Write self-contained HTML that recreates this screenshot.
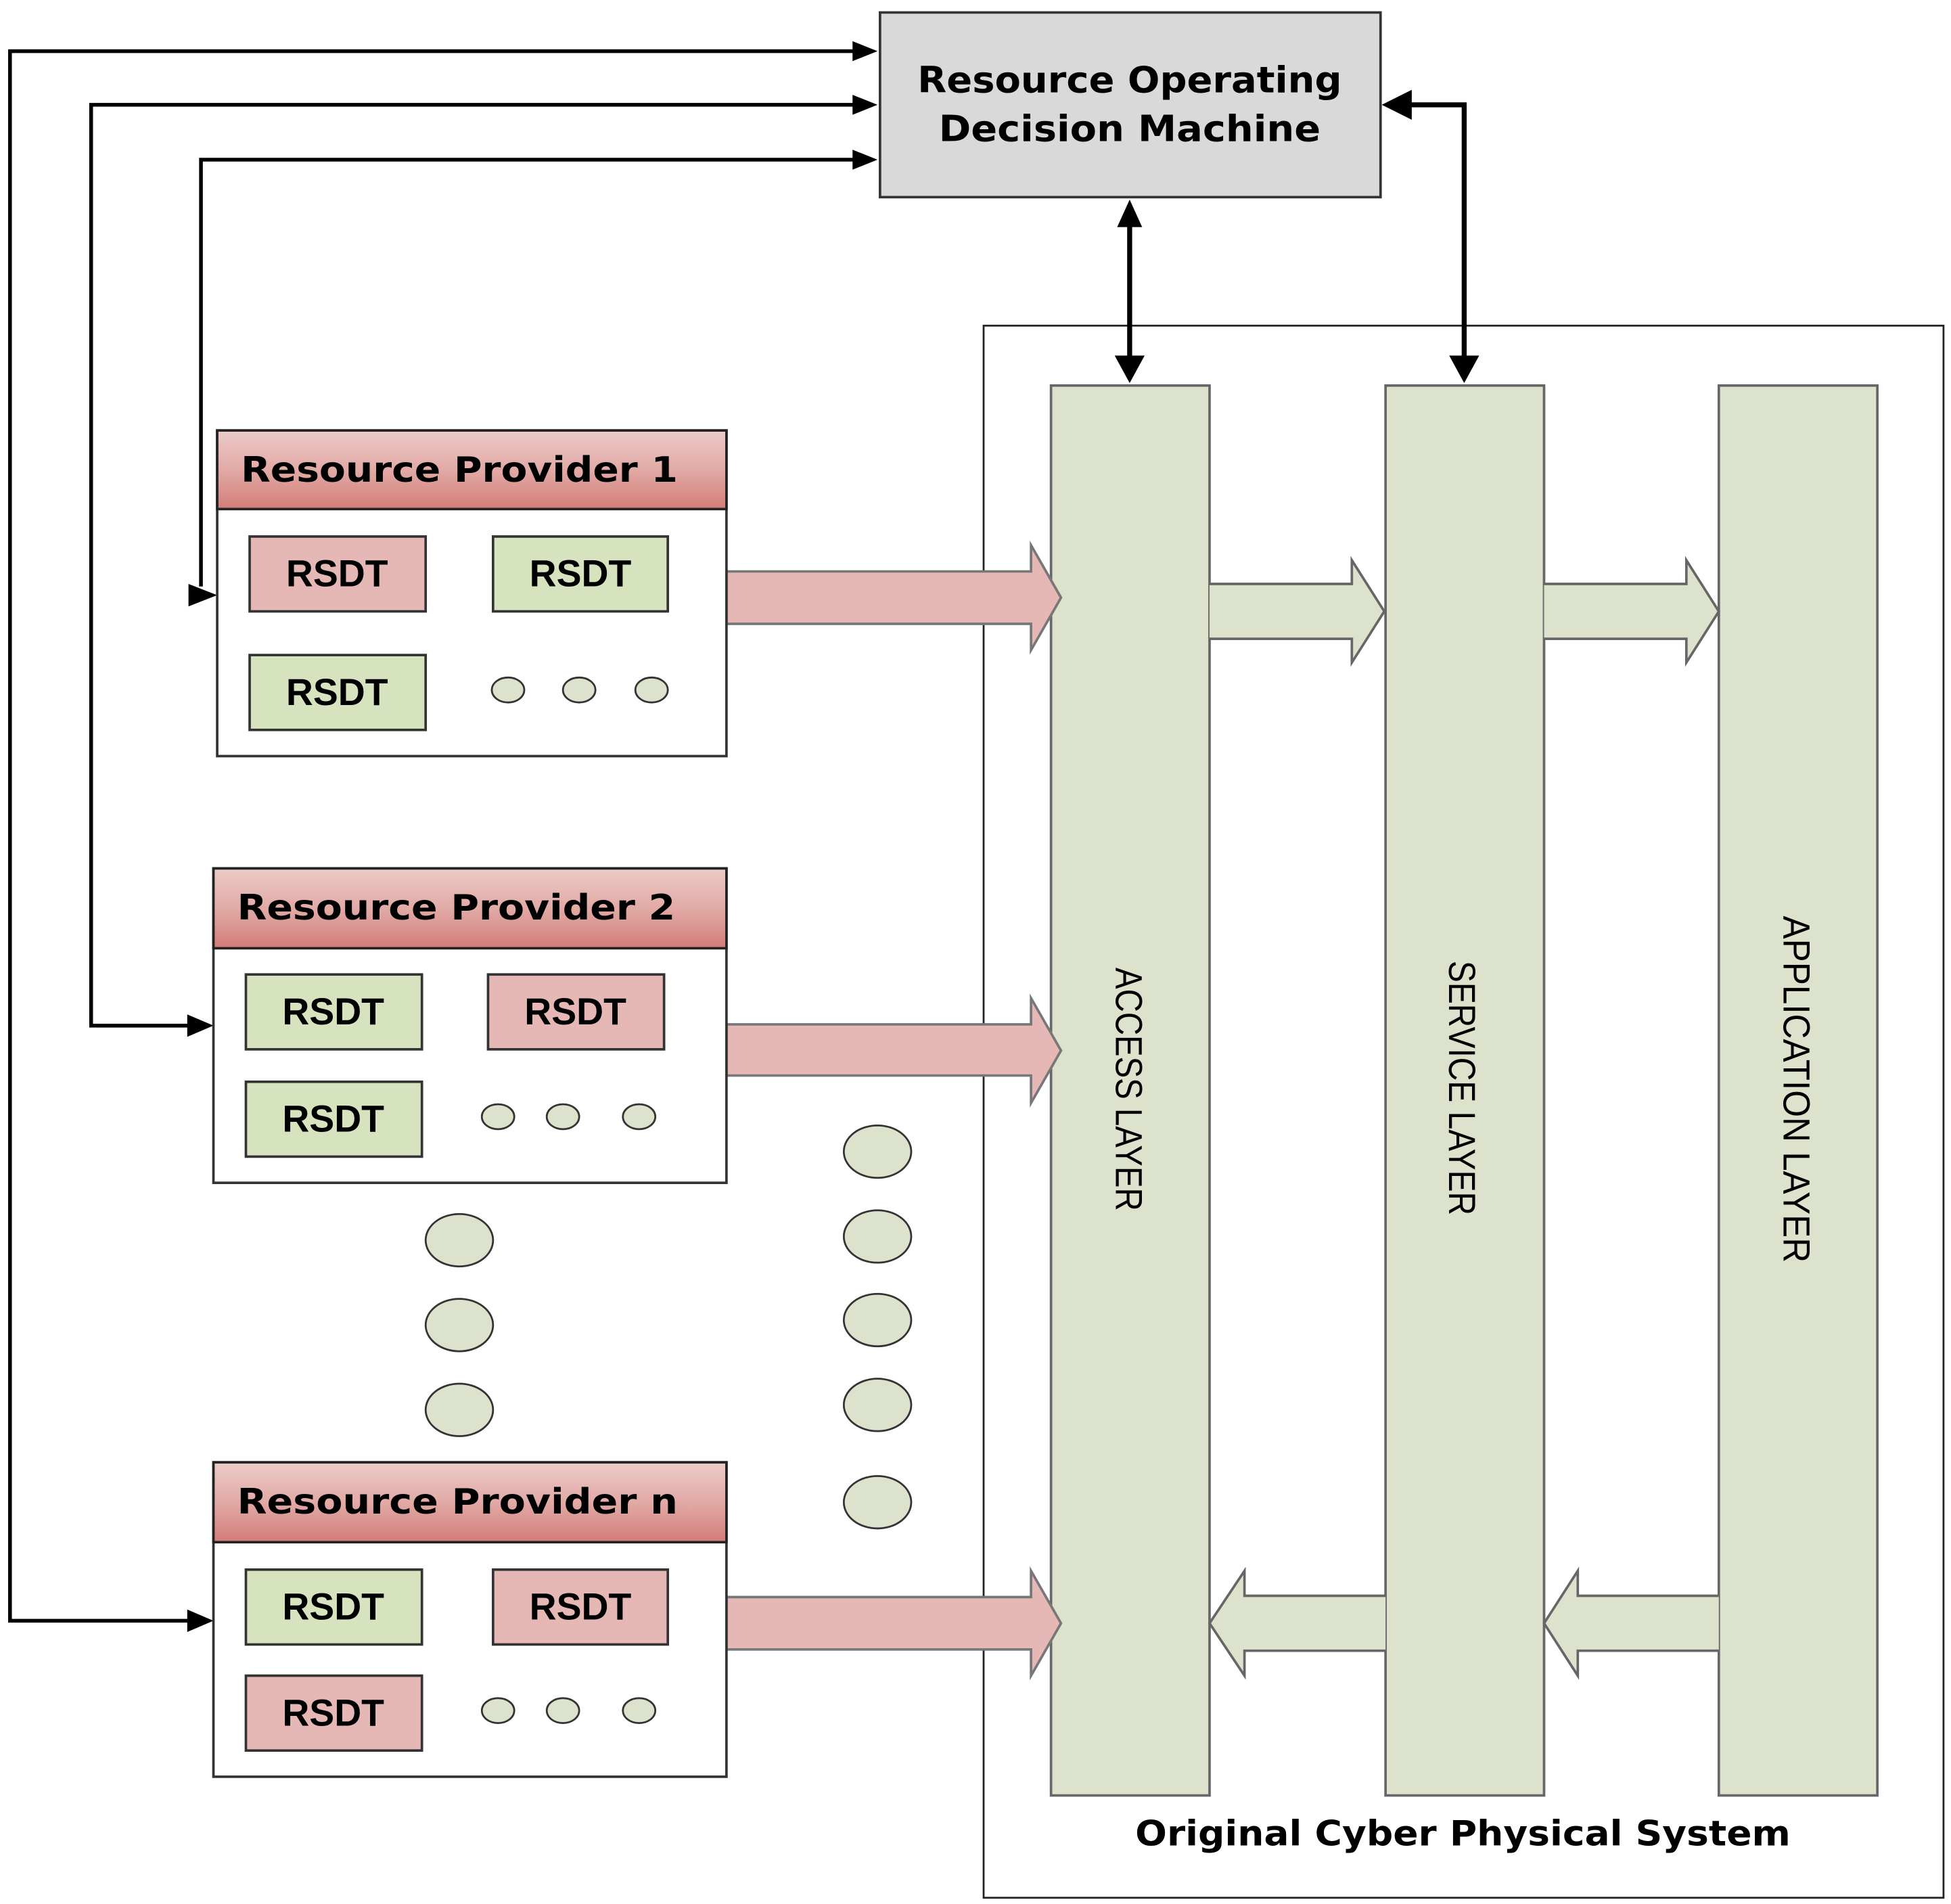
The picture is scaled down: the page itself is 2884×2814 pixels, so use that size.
<!DOCTYPE html>
<html><head><meta charset="utf-8"><style>
html,body{margin:0;padding:0;background:#fff;}
svg{display:block;}
.t{font-family:"DejaVu Sans","Liberation Sans",sans-serif;font-weight:bold;fill:#000;}
.r{font-family:"Liberation Sans",sans-serif;font-weight:bold;fill:#000;font-size:30px;}
.l{font-family:"Liberation Sans",sans-serif;fill:#000;font-size:30px;}
</style></head><body>
<svg width="2884" height="2814" viewBox="0 0 1563 1526" preserveAspectRatio="none" xmlns="http://www.w3.org/2000/svg">
<defs>
<linearGradient id="hg" x1="0" y1="0" x2="0" y2="1">
<stop offset="0" stop-color="#eccbc8"/><stop offset="0.5" stop-color="#e2aaa6"/><stop offset="1" stop-color="#d27d78"/>
</linearGradient>
</defs>

<rect x="788" y="261" width="769" height="1260" fill="#fff" stroke="#222" stroke-width="1.5"/>

<rect x="705" y="10" width="401" height="148" fill="#d9d9d9" stroke="#333" stroke-width="2"/>
<text class="t" x="905" y="74" font-size="29" text-anchor="middle" textLength="340" lengthAdjust="spacingAndGlyphs">Resource Operating</text>
<text class="t" x="905" y="113" font-size="29" text-anchor="middle" textLength="306" lengthAdjust="spacingAndGlyphs">Decision Machine</text>

<rect x="842" y="309" width="127" height="1130" fill="#dde2cc" stroke="#666" stroke-width="2"/>
<rect x="1110" y="309" width="127" height="1130" fill="#dde2cc" stroke="#666" stroke-width="2"/>
<rect x="1377" y="309" width="127" height="1130" fill="#dde2cc" stroke="#666" stroke-width="2"/>
<text class="l" transform="translate(894,873) rotate(90)" text-anchor="middle" textLength="195" lengthAdjust="spacingAndGlyphs">ACCESS LAYER</text>
<text class="l" transform="translate(1161,872) rotate(90)" text-anchor="middle" textLength="204" lengthAdjust="spacingAndGlyphs">SERVICE LAYER</text>
<text class="l" transform="translate(1429,873) rotate(90)" text-anchor="middle" textLength="278" lengthAdjust="spacingAndGlyphs">APPLICATION LAYER</text>

<path d="M969,468 L1083,468 L1083,449 L1109,490 L1083,531 L1083,512 L969,512" fill="#dde2cc" stroke="#666" stroke-width="2"/>
<path d="M1237,468 L1351,468 L1351,449 L1377,490 L1351,531 L1351,512 L1237,512" fill="#dde2cc" stroke="#666" stroke-width="2"/>
<path d="M1110,1279 L997,1279 L997,1259 L969,1301 L997,1343 L997,1323 L1110,1323" fill="#dde2cc" stroke="#666" stroke-width="2"/>
<path d="M1377,1279 L1264,1279 L1264,1259 L1237,1301 L1264,1343 L1264,1323 L1377,1323" fill="#dde2cc" stroke="#666" stroke-width="2"/>

<path d="M582,458 L826,458 L826,437 L850,479 L826,521 L826,500 L582,500 z" fill="#e5b8b5" stroke="#777" stroke-width="2"/>
<path d="M582,821 L826,821 L826,800 L850,842 L826,884 L826,862 L582,862 z" fill="#e5b8b5" stroke="#777" stroke-width="2"/>
<path d="M582,1280 L826,1280 L826,1259 L850,1301 L826,1343 L826,1322 L582,1322 z" fill="#e5b8b5" stroke="#777" stroke-width="2"/>

<!-- double arrows -->
<line x1="905" y1="178" x2="905" y2="290" stroke="#000" stroke-width="4"/>
<path d="M905,160 L895,182 L915,182 z" fill="#000"/>
<path d="M905,307 L893,285 L917,285 z" fill="#000"/>
<polyline points="1173,290 1173,84 1128,84" fill="none" stroke="#000" stroke-width="4"/>
<path d="M1173,307 L1161,285 L1185,285 z" fill="#000"/>
<path d="M1107,84 L1131,72 L1131,96 z" fill="#000"/>

<!-- feedback lines -->
<g fill="none" stroke="#000" stroke-width="3">
<polyline points="158,1299 8,1299 8,41 690,41"/>
<polyline points="158,822 73,822 73,84 690,84"/>
<polyline points="161,470 161,128 690,128"/>
</g>
<g fill="#000">
<path d="M703,41 L683,33 L683,49 z"/>
<path d="M703,84 L683,76 L683,92 z"/>
<path d="M703,128 L683,120 L683,136 z"/>
<path d="M171,1299 L150,1290 L150,1308 z"/>
<path d="M171,822 L150,813 L150,831 z"/>
<path d="M174,477 L151,468 L151,486 z"/>
</g>

<!-- RP1 -->
<rect x="174" y="345" width="408" height="261" fill="#fff" stroke="#333" stroke-width="2"/>
<rect x="174" y="345" width="408" height="63" fill="url(#hg)" stroke="#222" stroke-width="2"/>
<text class="t" x="193" y="386" font-size="28" textLength="350" lengthAdjust="spacingAndGlyphs">Resource Provider 1</text>
<rect x="200" y="430" width="141" height="60" fill="#e5b8b5" stroke="#333" stroke-width="2"/>
<rect x="395" y="430" width="140" height="60" fill="#d7e3bf" stroke="#333" stroke-width="2"/>
<rect x="200" y="525" width="141" height="60" fill="#d7e3bf" stroke="#333" stroke-width="2"/>
<text class="r" x="270" y="470" text-anchor="middle">RSDT</text>
<text class="r" x="465" y="470" text-anchor="middle">RSDT</text>
<text class="r" x="270" y="565" text-anchor="middle">RSDT</text>
<ellipse cx="407" cy="553" rx="13" ry="10" fill="#dde2cc" stroke="#333" stroke-width="1.5"/>
<ellipse cx="464" cy="553" rx="13" ry="10" fill="#dde2cc" stroke="#333" stroke-width="1.5"/>
<ellipse cx="522" cy="553" rx="13" ry="10" fill="#dde2cc" stroke="#333" stroke-width="1.5"/>

<!-- RP2 -->
<rect x="171" y="696" width="411" height="252" fill="#fff" stroke="#333" stroke-width="2"/>
<rect x="171" y="696" width="411" height="64" fill="url(#hg)" stroke="#222" stroke-width="2"/>
<text class="t" x="190" y="737" font-size="28" textLength="351" lengthAdjust="spacingAndGlyphs">Resource Provider 2</text>
<rect x="197" y="781" width="141" height="60" fill="#d7e3bf" stroke="#333" stroke-width="2"/>
<rect x="391" y="781" width="141" height="60" fill="#e5b8b5" stroke="#333" stroke-width="2"/>
<rect x="197" y="867" width="141" height="60" fill="#d7e3bf" stroke="#333" stroke-width="2"/>
<text class="r" x="267" y="821" text-anchor="middle">RSDT</text>
<text class="r" x="461" y="821" text-anchor="middle">RSDT</text>
<text class="r" x="267" y="907" text-anchor="middle">RSDT</text>
<ellipse cx="399" cy="895" rx="13" ry="10" fill="#dde2cc" stroke="#333" stroke-width="1.5"/>
<ellipse cx="451" cy="895" rx="13" ry="10" fill="#dde2cc" stroke="#333" stroke-width="1.5"/>
<ellipse cx="512" cy="895" rx="13" ry="10" fill="#dde2cc" stroke="#333" stroke-width="1.5"/>

<!-- RPn -->
<rect x="171" y="1172" width="411" height="252" fill="#fff" stroke="#333" stroke-width="2"/>
<rect x="171" y="1172" width="411" height="64" fill="url(#hg)" stroke="#222" stroke-width="2"/>
<text class="t" x="190" y="1213" font-size="28" textLength="353" lengthAdjust="spacingAndGlyphs">Resource Provider n</text>
<rect x="197" y="1258" width="141" height="60" fill="#d7e3bf" stroke="#333" stroke-width="2"/>
<rect x="395" y="1258" width="140" height="60" fill="#e5b8b5" stroke="#333" stroke-width="2"/>
<rect x="197" y="1343" width="141" height="60" fill="#e5b8b5" stroke="#333" stroke-width="2"/>
<text class="r" x="267" y="1298" text-anchor="middle">RSDT</text>
<text class="r" x="465" y="1298" text-anchor="middle">RSDT</text>
<text class="r" x="267" y="1383" text-anchor="middle">RSDT</text>
<ellipse cx="399" cy="1371" rx="13" ry="10" fill="#dde2cc" stroke="#333" stroke-width="1.5"/>
<ellipse cx="451" cy="1371" rx="13" ry="10" fill="#dde2cc" stroke="#333" stroke-width="1.5"/>
<ellipse cx="512" cy="1371" rx="13" ry="10" fill="#dde2cc" stroke="#333" stroke-width="1.5"/>

<g fill="#dde2cc" stroke="#333" stroke-width="1.5">
<ellipse cx="368" cy="994" rx="27" ry="21"/>
<ellipse cx="368" cy="1062" rx="27" ry="21"/>
<ellipse cx="368" cy="1130" rx="27" ry="21"/>
<ellipse cx="703" cy="923" rx="27" ry="21"/>
<ellipse cx="703" cy="991" rx="27" ry="21"/>
<ellipse cx="703" cy="1058" rx="27" ry="21"/>
<ellipse cx="703" cy="1126" rx="27" ry="21"/>
<ellipse cx="703" cy="1204" rx="27" ry="21"/>
</g>

<text class="t" x="1172" y="1479" font-size="28" text-anchor="middle" textLength="525" lengthAdjust="spacingAndGlyphs">Original Cyber Physical System</text>
</svg>
</body></html>
